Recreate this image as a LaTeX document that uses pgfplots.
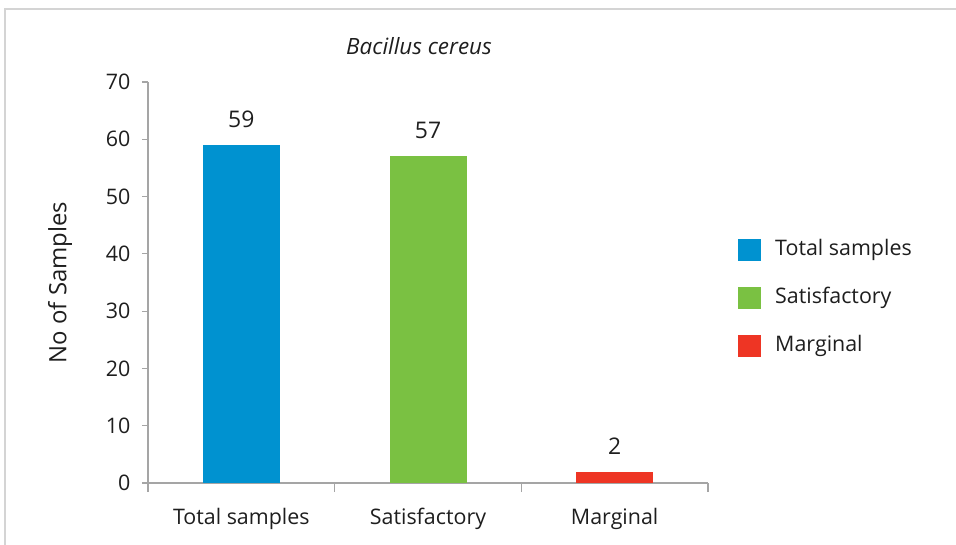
\documentclass[border=0pt]{standalone}
\usepackage{pgfplots}
\pgfplotsset{compat=1.18}
\usepackage{fontspec}
\setmainfont{Open Sans}
\definecolor{cblue}{RGB}{0,146,208}
\definecolor{cgreen}{RGB}{122,193,66}
\definecolor{cred}{RGB}{238,53,36}
\definecolor{axgray}{RGB}{165,165,165}
\definecolor{txt}{RGB}{30,30,30}
\begin{document}
\begin{tikzpicture}
\useasboundingbox (0,0) rectangle (956bp,545bp);
\draw[line width=1.5bp, color=black!17] (5bp,-20bp) rectangle (990bp,536bp);
\begin{axis}[
  at={(148bp,62bp)}, anchor=south west,
  width=560bp, height=401bp, scale only axis,
  xmin=-0.5, xmax=2.5, ymin=0, ymax=70,
  /pgf/number format/assume math mode=true,
  axis lines=left,
  axis line style={-, color=axgray, line width=1.2bp},
  ytick={0,10,...,70},
  xtick={0,1,2},
  xticklabels={Total samples,Satisfactory,Marginal},
  minor xtick={-0.5,0.5,1.5,2.5},
  tick align=outside,
  major tick length=6bp, minor tick length=9bp,
  tick style={color=axgray, line width=1.2bp},
  major x tick style={draw=none},
  ticklabel style={font=\fontsize{21.5}{25}\selectfont, color=txt},
  yticklabel style={xshift=-8bp},
  xticklabel style={yshift=-16bp},
  ylabel={No of Samples},
  ylabel style={at={(axis description cs:-0.157,0.5)}, anchor=center, font=\fontsize{24}{28}\selectfont, color=txt},
  title={\itshape Bacillus cereus},
  title style={at={(axis description cs:0.484,1)}, anchor=center, yshift=30bp, font=\fontsize{22.5}{26}\selectfont, color=txt},
  ybar, bar width=77bp, bar shift=0pt,
  nodes near coords,
  every node near coord/.append style={font=\fontsize{23}{27}\selectfont, color=txt, yshift=14bp},
  legend style={at={(axis description cs:1.0536,0.461)}, anchor=west, draw=none, fill=none,
    inner sep=0pt, column sep=14bp, row sep=26bp,
    nodes={inner sep=0pt, text height=16bp, text depth=5bp, font=\fontsize{21.5}{25}\selectfont, text=txt}},
  legend cell align=left,
  legend image code/.code={\fill[#1] (0bp,-11bp) rectangle (23bp,11bp);},
]
\addplot[fill=cblue, draw=none] coordinates {(0,59)};
\addplot[fill=cgreen, draw=none] coordinates {(1,57)};
\addplot[fill=cred, draw=none] coordinates {(2,2)};
\legend{Total samples, Satisfactory, Marginal}
\end{axis}
\end{tikzpicture}
\end{document}
